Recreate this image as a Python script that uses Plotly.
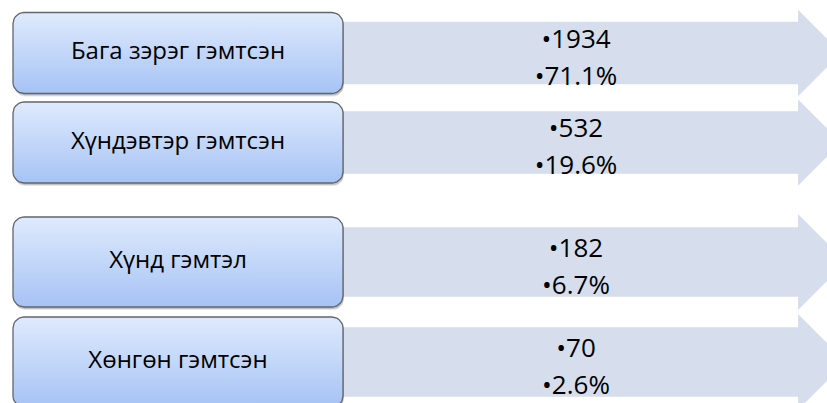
import numpy as np
import plotly.graph_objects as go

# data
categories = ["Бага зэрэг гэмтсэн", "Хүндэвтэр гэмтсэн", "Хүнд гэмтэл", "Хөнгөн гэмтсэн"]
counts = [1934, 532, 182, 70]
percents = [71.1, 19.6, 6.7, 2.6]

# layout of rows (pixel space)
W, H = 827, 403
row_center = [53, 142.5, 262, 362]
row_height = [81, 81, 90, 90]
box_x0, box_x1 = 13, 343
arrow_x0, arrow_neck = 338, 798
text_x = 576

box_top = "#dfeafd"
box_bottom = "#a6c3f5"
box_line = "#61666e"
arrow_fill = "#d6ddec"
font = "Open Sans"


def rounded_rect(x0, y0, x1, y1, r, n=8):
    xs, ys = [], []
    corners = [(x1 - r, y0 + r, -90, 0), (x1 - r, y1 - r, 0, 90),
               (x0 + r, y1 - r, 90, 180), (x0 + r, y0 + r, 180, 270)]
    for cx, cy, a0, a1 in corners:
        for a in np.linspace(np.radians(a0), np.radians(a1), n):
            xs.append(cx + r * np.cos(a))
            ys.append(cy + r * np.sin(a))
    xs.append(xs[0])
    ys.append(ys[0])
    return xs, ys


fig = go.Figure()

# arrows
for c, h in zip(row_center, row_height):
    band = h * 0.385
    head = h * 1.065 / 2
    xs = [arrow_x0, arrow_neck, arrow_neck, arrow_neck + head, arrow_neck, arrow_neck, arrow_x0, arrow_x0]
    ys = [c - band, c - band, c - head, c, c + head, c + band, c + band, c - band]
    fig.add_trace(go.Scatter(x=xs, y=ys, fill="toself", fillcolor=arrow_fill,
                             mode="lines", line=dict(width=0), hoverinfo="skip"))

# boxes with shadow and gradient
for c, h in zip(row_center, row_height):
    y0, y1 = c - h / 2, c + h / 2
    for off, op in [(3, 0.10), (2, 0.15)]:
        sx, sy = rounded_rect(box_x0 + 1, y0 + off, box_x1 + 1, y1 + off, 11)
        fig.add_trace(go.Scatter(x=sx, y=sy, fill="toself",
                                 fillcolor=f"rgba(0,0,0,{op})", mode="lines",
                                 line=dict(width=0), hoverinfo="skip"))
    bx, by = rounded_rect(box_x0, y0, box_x1, y1, 11)
    fig.add_trace(go.Scatter(x=bx, y=by, fill="toself",
                             fillgradient=dict(type="vertical",
                                               colorscale=[[0, box_bottom], [1, box_top]]),
                             mode="lines", line=dict(color=box_line, width=1.3),
                             hoverinfo="skip"))

# labels in boxes
fig.add_trace(go.Scatter(x=[(box_x0 + box_x1) / 2] * len(categories), y=row_center,
                         text=categories, mode="text",
                         textfont=dict(family=font, size=24, color="black"),
                         hoverinfo="skip"))

# values on arrows
fig.add_trace(go.Scatter(x=[text_x] * len(counts), y=[c - 12 for c in row_center],
                         text=[f"•{v}" for v in counts], mode="text",
                         textfont=dict(family=font, size=26, color="black"),
                         hoverinfo="skip"))
fig.add_trace(go.Scatter(x=[text_x] * len(percents), y=[c + 25 for c in row_center],
                         text=[f"•{p}%" for p in percents], mode="text",
                         textfont=dict(family=font, size=26, color="black"),
                         hoverinfo="skip"))

fig.update_layout(
    width=W, height=H,
    margin=dict(l=0, r=0, t=0, b=0),
    showlegend=False,
    plot_bgcolor="white", paper_bgcolor="white",
    xaxis=dict(range=[0, W], visible=False, fixedrange=True),
    yaxis=dict(range=[H, 0], visible=False, fixedrange=True),
)

# the page body has a default 8px margin; drop it so the figure fills the window
fig.write_html("out.html", config={"displayModeBar": False},
               post_script="document.body.style.margin='0';")
